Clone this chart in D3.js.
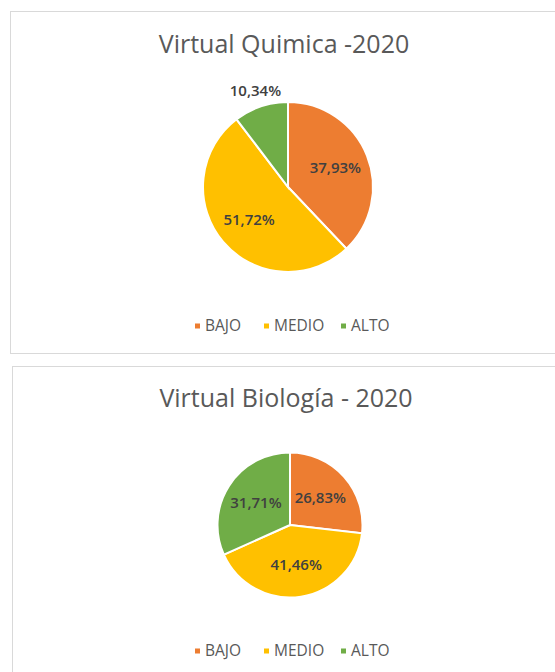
<!DOCTYPE html>
<html>
<head>
<meta charset="utf-8">
<script src="https://cdn.jsdelivr.net/npm/d3@7"></script>
<style>
  html, body { margin: 0; padding: 0; background: #ffffff; }
  svg { display: block; }
  text { font-family: "Open Sans", "Noto Sans", sans-serif; }
</style>
</head>
<body>
<svg id="chart" width="555" height="672"></svg>
<script>
// Category names shared by both pies
const categories = ["BAJO", "MEDIO", "ALTO"];
const categoryColors = ["#ED7D31", "#FFC000", "#70AD47"];

// Percentages per course
const quimicaValues = [37.93, 51.72, 10.34];
const biologiaValues = [26.83, 41.46, 31.71];

const chartTitles = ["Virtual Quimica -2020", "Virtual Biología - 2020"];

const svg = d3.select("#chart");
const color = d3.scaleOrdinal().domain(categories).range(categoryColors);
const fmt = v => v.toFixed(2).replace(".", ",") + "%";

const panels = [
  { title: chartTitles[0], values: quimicaValues, box: [10.5, 11.5, 560, 342], titleY: 53,
    cx: 288, cy: 187, r: 85, labelRatio: 0.6, legendY: 326, outside: [false, false, true] },
  { title: chartTitles[1], values: biologiaValues, box: [12.5, 366.5, 560, 320], titleY: 407,
    cx: 290, cy: 525, r: 72.5, labelRatio: 0.56, legendY: 651, outside: [false, false, false] }
];

const pie = d3.pie().sort(null).value(d => d.value);

panels.forEach(p => {
  const g = svg.append("g");

  // Panel frame
  g.append("rect")
    .attr("x", p.box[0]).attr("y", p.box[1])
    .attr("width", p.box[2]).attr("height", p.box[3])
    .attr("fill", "#ffffff").attr("stroke", "#d9d9d9").attr("stroke-width", 1);

  // Title
  g.append("text")
    .attr("x", p.cx - 4).attr("y", p.titleY)
    .attr("text-anchor", "middle")
    .attr("font-size", 25)
    .attr("fill", "#595959")
    .text(p.title);

  const data = categories.map((c, i) => ({ name: c, value: p.values[i], outside: p.outside[i] }));
  const arcs = pie(data);
  const arc = d3.arc().innerRadius(0).outerRadius(p.r);
  const labelArc = d3.arc().innerRadius(p.r * p.labelRatio).outerRadius(p.r * p.labelRatio);
  const outerArc = d3.arc().innerRadius(p.r * 1.2).outerRadius(p.r * 1.2);

  const pg = g.append("g").attr("transform", `translate(${p.cx},${p.cy})`);
  pg.selectAll("path").data(arcs).join("path")
    .attr("d", arc)
    .attr("fill", d => color(d.data.name))
    .attr("stroke", "#ffffff")
    .attr("stroke-width", 2);

  pg.selectAll("text.lbl").data(arcs).join("text")
    .attr("class", "lbl")
    .attr("transform", d => `translate(${(d.data.outside ? outerArc : labelArc).centroid(d)})`)
    .attr("text-anchor", "middle")
    .attr("dy", "0.35em")
    .attr("font-size", 15)
    .attr("font-weight", 600)
    .attr("fill", "#404040")
    .text(d => fmt(d.data.value));

  // Legend
  const lg = g.append("g").attr("transform", `translate(0,${p.legendY})`);
  const legendX = d3.scaleOrdinal().domain(categories).range([195, 264, 341]);
  categories.forEach(c => {
    const x = legendX(c);
    lg.append("rect")
      .attr("x", x).attr("y", -2.5).attr("width", 5).attr("height", 5)
      .attr("fill", color(c));
    lg.append("text")
      .attr("x", x + 10).attr("y", 0)
      .attr("dy", "0.35em")
      .attr("font-size", 15.5)
      .attr("fill", "#595959")
      .text(c);
  });
});
</script>
</body>
</html>
